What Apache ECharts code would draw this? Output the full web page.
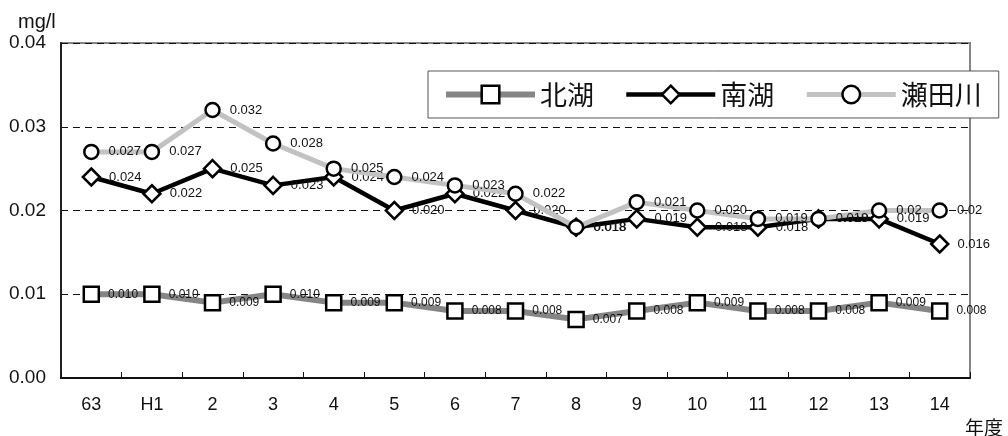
<!DOCTYPE html>
<html>
<head>
<meta charset="utf-8">
<script src="https://cdn.jsdelivr.net/npm/echarts@6/dist/echarts.min.js"></script>
<style>
  html, body { margin: 0; padding: 0; background: #fff; }
  #chart { width: 1008px; height: 436px; }
</style>
</head>
<body>
<div id="chart"></div>
<script>
// Fiscal years (昭和63, 平成1 … 平成14)
const categories = ['63', 'H1', '2', '3', '4', '5', '6', '7', '8', '9', '10', '11', '12', '13', '14'];

// Annual mean concentrations in mg/l, kept as printed so each label shows its own value
const kitakoValues = ['0.010', '0.010', '0.009', '0.010', '0.009', '0.009', '0.008', '0.008', '0.007', '0.008', '0.009', '0.008', '0.008', '0.009', '0.008'];
const nankoValues  = ['0.024', '0.022', '0.025', '0.023', '0.024', '0.020', '0.022', '0.020', '0.018', '0.019', '0.018', '0.018', '0.019', '0.019', '0.016'];
const setagawaValues = ['0.027', '0.027', '0.032', '0.028', '0.025', '0.024', '0.023', '0.022', '0.018', '0.021', '0.020', '0.019', '0.019', '0.02', '0.02'];

const seriesNames = ['北湖', '南湖', '瀬田川'];
const yTicks = { min: 0, max: 0.04, interval: 0.01 };

const latin = '"Liberation Sans", Arial, sans-serif';
const cjk = '"Noto Sans CJK JP", sans-serif';

function lineSeries(name, values, opts) {
  return {
    name: name,
    type: 'line',
    data: values.map(Number),
    symbol: opts.symbol,
    symbolSize: opts.symbolSize,
    lineStyle: { color: opts.lineColor, width: opts.lineWidth },
    itemStyle: { color: '#ffffff', borderColor: '#000000', borderWidth: 2.5 },
    label: {
      show: true,
      position: 'right',
      distance: opts.labelDistance,
      color: '#111',
      fontFamily: latin,
      fontSize: opts.labelSize,
      formatter: function (p) { return values[p.dataIndex]; }
    },
    emphasis: { disabled: true },
    z: opts.z
  };
}

const chart = echarts.init(document.getElementById('chart'), null, { renderer: 'canvas' });

chart.setOption({
  animation: false,
  backgroundColor: '#ffffff',
  grid: {
    left: 61, right: 38, top: 43, bottom: 58,
    show: true,
    borderColor: '#858585',
    borderWidth: 2,
    backgroundColor: 'transparent'
  },
  legend: {
    data: seriesNames,
    left: 428,
    top: 71,
    padding: [10, 17, 10, 15],
    itemGap: 30,
    itemWidth: 89,
    itemHeight: 22,
    borderColor: '#555',
    borderWidth: 1,
    backgroundColor: '#ffffff',
    lineStyle: { width: 'inherit' },
    itemStyle: { borderWidth: 'inherit' },
    textStyle: { fontFamily: cjk, fontSize: 27, color: '#111' },
    selectedMode: false
  },
  xAxis: {
    type: 'category',
    data: categories,
    boundaryGap: true,
    axisLine: { lineStyle: { color: '#111', width: 2 } },
    axisTick: { show: true, inside: true, length: 6, lineStyle: { color: '#111', width: 1 } },
    axisLabel: { fontFamily: latin, fontSize: 18, color: '#111', margin: 18 },
    splitLine: { show: false }
  },
  yAxis: {
    type: 'value',
    min: yTicks.min,
    max: yTicks.max,
    interval: yTicks.interval,
    axisLine: { show: true, lineStyle: { color: '#222', width: 2 } },
    axisTick: { show: false },
    axisLabel: {
      fontFamily: latin, fontSize: 19, color: '#111', margin: 15,
      formatter: function (v) { return v.toFixed(2); }
    },
    splitLine: { show: true, lineStyle: { color: '#111', width: 1, type: [7, 5] } }
  },
  graphic: [
    { type: 'text', left: 18, top: 12, style: { text: 'mg/l', fontFamily: latin, fontSize: 20, fill: '#111' } },
    { type: 'text', left: 965, top: 418, style: { text: '年度', fontFamily: cjk, fontSize: 19, fill: '#111' } }
  ],
  series: [
    lineSeries(seriesNames[0], kitakoValues, { symbol: 'rect', symbolSize: 15, lineColor: '#858585', lineWidth: 6, labelSize: 12, labelDistance: 8, z: 2 }),
    lineSeries(seriesNames[1], nankoValues, { symbol: 'diamond', symbolSize: 17, lineColor: '#000000', lineWidth: 4.5, labelSize: 13, labelDistance: 8, z: 3 }),
    lineSeries(seriesNames[2], setagawaValues, { symbol: 'circle', symbolSize: 14, lineColor: '#c2c2c2', lineWidth: 5, labelSize: 13, labelDistance: 9, z: 4 })
  ]
});
</script>
</body>
</html>
